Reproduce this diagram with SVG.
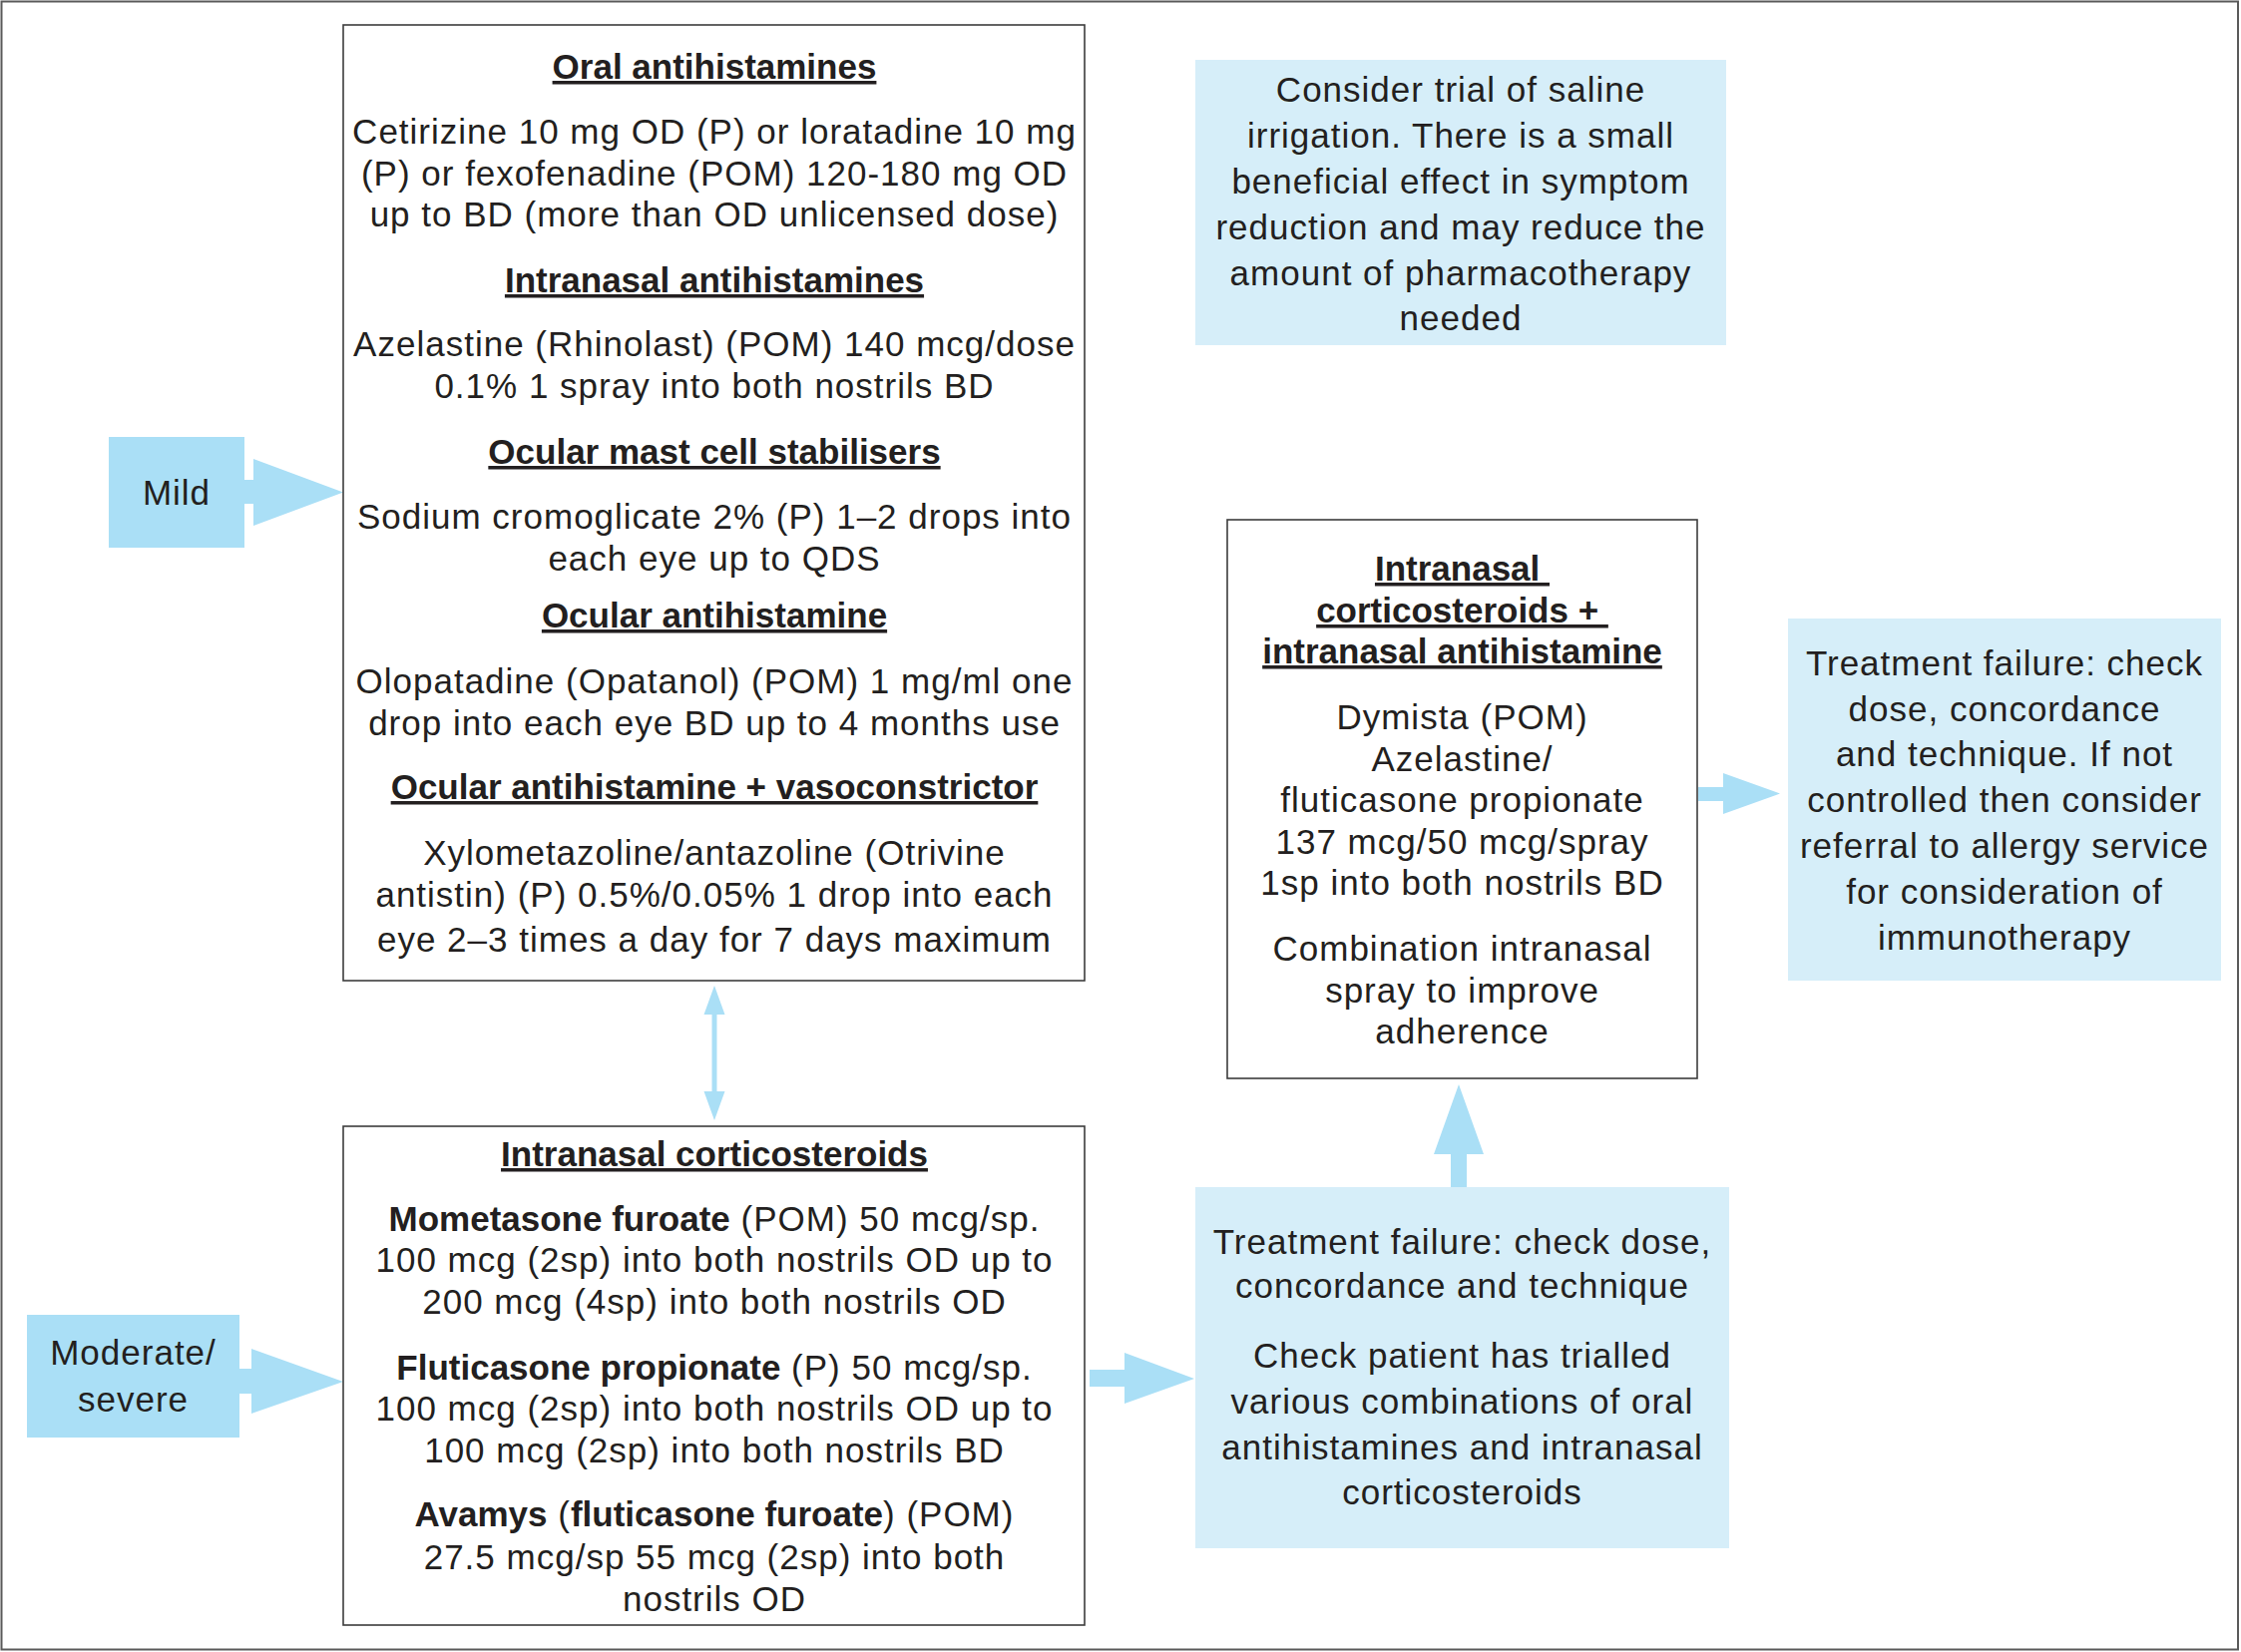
<svg xmlns="http://www.w3.org/2000/svg" width="2246" height="1656" viewBox="0 0 2246 1656">
<style>
.t { font-family: "Liberation Sans", Arial, sans-serif; font-size: 35px; fill: #231f20; letter-spacing: 1px; text-anchor: middle; }
.h { font-weight: bold; letter-spacing: 0px; text-decoration: underline; }
.b { font-weight: bold; letter-spacing: 0px; }
.box { fill: #ffffff; stroke: #3c3c3c; stroke-width: 1.6; }
.note { fill: #d6eef9; }
.sev { fill: #aadff6; }
.arr { fill: #aadff6; }
.arrline { stroke: #aadff6; stroke-width: 5; fill: none; }
</style>
<rect x="0" y="0" width="2246" height="1656" fill="#ffffff"/>
<rect x="1.5" y="1.5" width="2241.5" height="1652" fill="none" stroke="#5a5a5a" stroke-width="2"/>

<g id="connectors">
  <path class="arr" d="M244,481 H254 V460 L344,493.5 L254,527 V505 H244 Z"/>
  <path class="arr" d="M239,1372 H252 V1352 L344,1385 L252,1417 V1397 H239 Z"/>
  <line class="arrline" x1="716" y1="1014" x2="716" y2="1097"/>
  <polygon class="arr" points="705.5,1017 716,988 726.5,1017"/>
  <polygon class="arr" points="705.5,1094 716,1123 726.5,1094"/>
  <path class="arr" d="M1092,1373 H1127 V1356 L1197,1382 L1127,1407 V1390 H1092 Z"/>
  <path class="arr" d="M1454,1190 V1157 H1437 L1462,1087 L1487,1157 H1470 V1190 Z"/>
  <path class="arr" d="M1702,789 H1727 V775 L1784,795.5 L1727,816 V803 H1702 Z"/>
</g>

<g id="mild">
  <rect class="sev" x="109" y="438" width="136" height="111"/>
  <text class="t" x="177" y="506">Mild</text>
</g>

<g id="moderate-severe">
  <rect class="sev" x="27" y="1318" width="213" height="123"/>
  <text class="t" x="133.5" y="1368">Moderate/</text>
  <text class="t" x="133.5" y="1415">severe</text>
</g>

<g id="oral-antihistamines">
  <rect class="box" x="344" y="25" width="743" height="958"/>
  <text class="t h" x="716" y="79">Oral antihistamines</text>
  <text class="t" x="716" y="144">Cetirizine 10 mg OD (P) or loratadine 10 mg</text>
  <text class="t" x="716" y="186">(P) or fexofenadine (POM) 120-180 mg OD</text>
  <text class="t" x="716" y="227">up to BD (more than OD unlicensed dose)</text>
  <text class="t h" x="716" y="293">Intranasal antihistamines</text>
  <text class="t" x="716" y="357">Azelastine (Rhinolast) (POM) 140 mcg/dose</text>
  <text class="t" x="716" y="399">0.1% 1 spray into both nostrils BD</text>
  <text class="t h" x="716" y="465">Ocular mast cell stabilisers</text>
  <text class="t" x="716" y="530">Sodium cromoglicate 2% (P) 1–2 drops into</text>
  <text class="t" x="716" y="572">each eye up to QDS</text>
  <text class="t h" x="716" y="629">Ocular antihistamine</text>
  <text class="t" x="716" y="695">Olopatadine (Opatanol) (POM) 1 mg/ml one</text>
  <text class="t" x="716" y="737">drop into each eye BD up to 4 months use</text>
  <text class="t h" x="716" y="801">Ocular antihistamine + vasoconstrictor</text>
  <text class="t" x="716" y="867">Xylometazoline/antazoline (Otrivine</text>
  <text class="t" x="716" y="909">antistin) (P) 0.5%/0.05% 1 drop into each</text>
  <text class="t" x="716" y="954">eye 2–3 times a day for 7 days maximum</text>
</g>

<g id="intranasal-corticosteroids">
  <rect class="box" x="344" y="1129" width="743" height="500"/>
  <text class="t h" x="716" y="1169">Intranasal corticosteroids</text>
  <text class="t" x="716" y="1234"><tspan class="b">Mometasone furoate</tspan> (POM) 50 mcg/sp.</text>
  <text class="t" x="716" y="1275">100 mcg (2sp) into both nostrils OD up to</text>
  <text class="t" x="716" y="1317">200 mcg (4sp) into both nostrils OD</text>
  <text class="t" x="716" y="1383"><tspan class="b">Fluticasone propionate</tspan> (P) 50 mcg/sp.</text>
  <text class="t" x="716" y="1424">100 mcg (2sp) into both nostrils OD up to</text>
  <text class="t" x="716" y="1466">100 mcg (2sp) into both nostrils BD</text>
  <text class="t" x="716" y="1530"><tspan class="b">Avamys</tspan> (<tspan class="b">fluticasone furoate</tspan>) (POM)</text>
  <text class="t" x="716" y="1573">27.5 mcg/sp 55 mcg (2sp) into both</text>
  <text class="t" x="716" y="1615">nostrils OD</text>
</g>

<g id="saline">
  <rect class="note" x="1198" y="60" width="532" height="286"/>
  <text class="t" x="1464" y="102">Consider trial of saline</text>
  <text class="t" x="1464" y="148">irrigation. There is a small</text>
  <text class="t" x="1464" y="194">beneficial effect in symptom</text>
  <text class="t" x="1464" y="240">reduction and may reduce the</text>
  <text class="t" x="1464" y="286">amount of pharmacotherapy</text>
  <text class="t" x="1464" y="331">needed</text>
</g>

<g id="combination">
  <rect class="box" x="1230" y="521" width="471" height="560"/>
  <text class="t h" x="1465.5" y="582" xml:space="preserve">Intranasal </text>
  <text class="t h" x="1465.5" y="624" xml:space="preserve">corticosteroids + </text>
  <text class="t h" x="1465.5" y="665">intranasal antihistamine</text>
  <text class="t" x="1465.5" y="731">Dymista (POM)</text>
  <text class="t" x="1465.5" y="773">Azelastine/</text>
  <text class="t" x="1465.5" y="814">fluticasone propionate</text>
  <text class="t" x="1465.5" y="856">137 mcg/50 mcg/spray</text>
  <text class="t" x="1465.5" y="897">1sp into both nostrils BD</text>
  <text class="t" x="1465.5" y="963">Combination intranasal</text>
  <text class="t" x="1465.5" y="1005">spray to improve</text>
  <text class="t" x="1465.5" y="1046">adherence</text>
</g>

<g id="referral">
  <rect class="note" x="1792" y="620" width="434" height="363"/>
  <text class="t" x="2009" y="677">Treatment failure: check</text>
  <text class="t" x="2009" y="722.5">dose, concordance</text>
  <text class="t" x="2009" y="768">and technique. If not</text>
  <text class="t" x="2009" y="814">controlled then consider</text>
  <text class="t" x="2009" y="860">referral to allergy service</text>
  <text class="t" x="2009" y="906">for consideration of</text>
  <text class="t" x="2009" y="952">immunotherapy</text>
</g>

<g id="treatment-failure">
  <rect class="note" x="1198" y="1190" width="535" height="362"/>
  <text class="t" x="1465.5" y="1257">Treatment failure: check dose,</text>
  <text class="t" x="1465.5" y="1301">concordance and technique</text>
  <text class="t" x="1465.5" y="1371">Check patient has trialled</text>
  <text class="t" x="1465.5" y="1417">various combinations of oral</text>
  <text class="t" x="1465.5" y="1463">antihistamines and intranasal</text>
  <text class="t" x="1465.5" y="1508">corticosteroids</text>
</g>
</svg>
